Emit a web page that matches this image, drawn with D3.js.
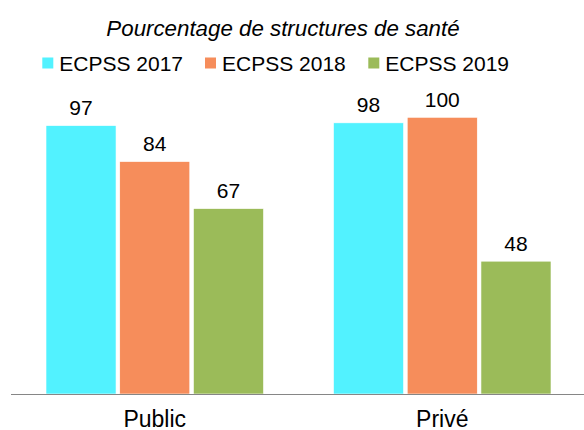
<!DOCTYPE html>
<html>
<head>
<meta charset="utf-8">
<script src="https://cdn.jsdelivr.net/npm/d3@7"></script>
<style>
  html, body { margin: 0; padding: 0; background: #fff; }
  svg { display: block; font-family: Arial, "Liberation Sans", sans-serif; }
</style>
</head>
<body>
<svg id="chart" width="584" height="430"></svg>
<script>
const categories = ["Public", "Privé"];
const seriesNames = ["ECPSS 2017", "ECPSS 2018", "ECPSS 2019"];
const values2017 = [97, 98];
const values2018 = [84, 100];
const values2019 = [67, 48];
const colors = ["#52F2FF", "#F68D5B", "#9BBB59"];
const titleText = "Pourcentage de structures de santé";

const seriesValues = [values2017, values2018, values2019];

const svg = d3.select("#chart");

const x0 = d3.scaleBand().domain(categories).range([11, 586]).padding(0);
const x1 = d3.scaleBand().domain(seriesNames)
  .range([35, x0.bandwidth() - 35]).paddingInner(0.05).paddingOuter(0);
const y = d3.scaleLinear().domain([0, 100]).range([394, 117.3]);

// Title
svg.append("text")
  .attr("x", 283).attr("y", 36)
  .attr("text-anchor", "middle")
  .attr("font-size", 22.3).attr("font-style", "italic")
  .attr("fill", "#000")
  .text(titleText);

// Legend
const legendX = [42.3, 205, 368.3];
const legend = svg.append("g");
seriesNames.forEach((s, i) => {
  legend.append("rect")
    .attr("x", legendX[i]).attr("y", 57.5)
    .attr("width", 11).attr("height", 11)
    .attr("fill", colors[i]);
  legend.append("text")
    .attr("x", legendX[i] + 17).attr("y", 71)
    .attr("font-size", 21).attr("fill", "#000")
    .text(s);
});

// Bars
const groups = svg.append("g").selectAll("g")
  .data(categories)
  .join("g")
  .attr("transform", d => `translate(${x0(d)},0)`);

groups.each(function(cat, ci) {
  const g = d3.select(this);
  seriesNames.forEach((s, si) => {
    const v = seriesValues[si][ci];
    g.append("rect")
      .attr("x", x1(s)).attr("y", y(v))
      .attr("width", x1.bandwidth())
      .attr("height", y(0) - y(v))
      .attr("fill", colors[si])
      .attr("stroke", "#ffffff").attr("stroke-width", 0.6);
    g.append("text")
      .attr("x", x1(s) + x1.bandwidth() / 2)
      .attr("y", y(v) - 10.5)
      .attr("text-anchor", "middle")
      .attr("font-size", 21).attr("fill", "#000")
      .text(v);
  });
});

// Axis
const axis = svg.append("g")
  .attr("transform", `translate(0,${y(0)})`)
  .call(d3.axisBottom(x0).tickSize(0).tickPadding(17));
axis.select(".domain").attr("stroke", "#868686").attr("stroke-width", 1.2)
  .attr("d", `M11,0.5H584`);
axis.selectAll("text")
  .attr("font-size", 23).attr("fill", "#000")
  .attr("font-family", "Arial, 'Liberation Sans', sans-serif");
</script>
</body>
</html>
